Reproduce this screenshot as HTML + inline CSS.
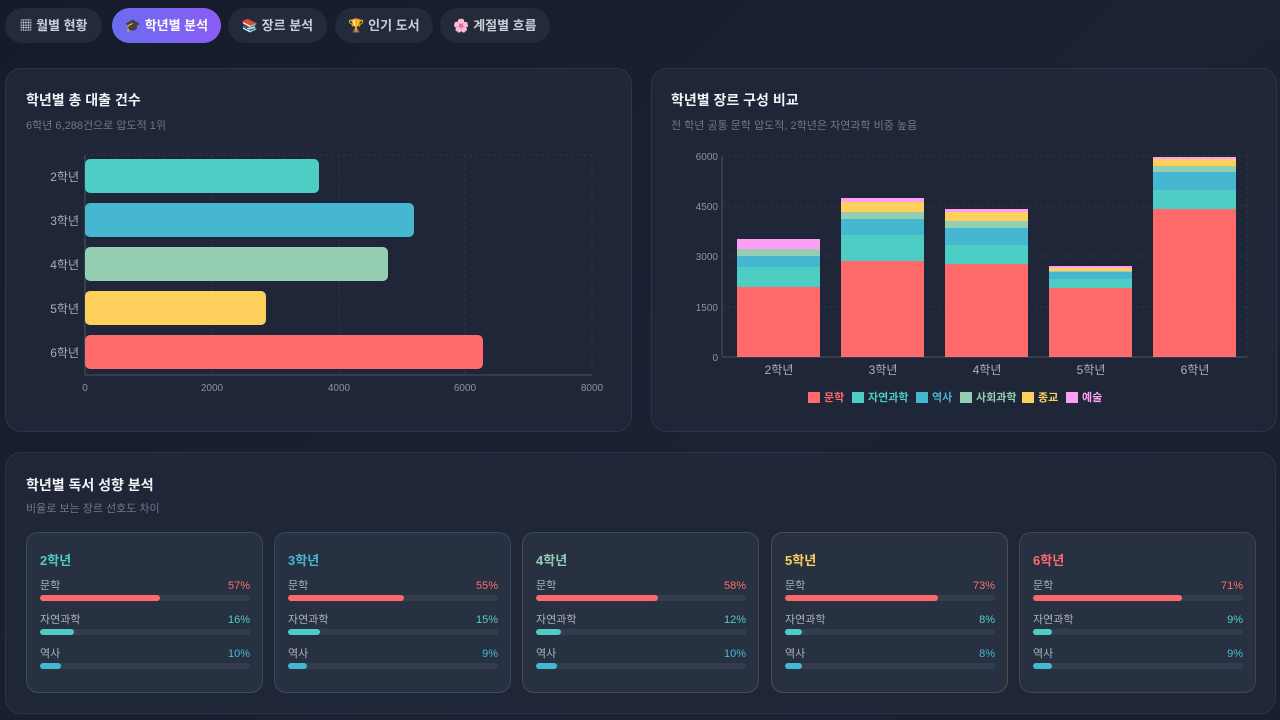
<!DOCTYPE html>
<html><head><meta charset="utf-8"><style>
*{margin:0;padding:0;box-sizing:border-box}
body{width:1280px;height:720px;overflow:hidden;background:linear-gradient(135deg,#151b29,#1b2233 60%,#182030);font-family:"Liberation Sans","Noto Sans CJK KR",sans-serif;color:#e6e9ef;position:relative}
.tab{position:absolute;top:8px;height:35px;border-radius:18px;background:#232b3a;color:#c9ced8;font-size:13px;font-weight:bold;line-height:35px;text-align:center}
.tab.on{background:linear-gradient(90deg,#6a6cf0,#8b5cf6);color:#fff}
.card{position:absolute;background:#1e2637;border:1px solid #2c3548;border-radius:16px}
.h{position:absolute;font-size:14px;font-weight:bold;color:#f1f3f7}
.s{position:absolute;font-size:11px;color:#6f7889}
.g{position:absolute;top:532px;width:237px;height:161px;border-radius:12px;background:#283142;border:1px solid #3a4a5a}
.g .t{position:absolute;left:13px;top:17px;font-size:13px;font-weight:bold}
.row{position:absolute;left:13px;width:210px;height:14px;font-size:11px;line-height:14px;color:#a9b0bd}
.row .v{position:absolute;right:0;top:0;line-height:14px}
.row .tr{position:absolute;left:0;top:16px;width:210px;height:6px;border-radius:3px;background:#343d4d}
.row .f{position:absolute;left:0;top:0;height:6px;border-radius:3px}
</style></head><body>
<div class="tab" style="left:5px;width:97px">▦ 월별 현황</div>
<div class="tab on" style="left:112px;width:109px">🎓 학년별 분석</div>
<div class="tab" style="left:228px;width:99px">📚 장르 분석</div>
<div class="tab" style="left:335px;width:98px">🏆 인기 도서</div>
<div class="tab" style="left:440px;width:110px">🌸 계절별 흐름</div>

<div class="card" style="left:5px;top:68px;width:627px;height:364px"></div>
<div class="card" style="left:651px;top:68px;width:626px;height:364px"></div>
<div class="card" style="left:5px;top:452px;width:1271px;height:262px"></div>

<div class="h" style="left:26px;top:90px">학년별 총 대출 건수</div>
<div class="s" style="left:26px;top:117px">6학년 6,288건으로 압도적 1위</div>
<div class="h" style="left:671px;top:90px">학년별 장르 구성 비교</div>
<div class="s" style="left:671px;top:117px">전 학년 공통 문학 압도적, 2학년은 자연과학 비중 높음</div>
<div class="h" style="left:26px;top:475px">학년별 독서 성향 분석</div>
<div class="s" style="left:26px;top:500px">비율로 보는 장르 선호도 차이</div>

<svg width="1280" height="720" style="position:absolute;left:0;top:0" font-family="Liberation Sans, Noto Sans CJK KR, sans-serif">
<g stroke="#2c3547" stroke-dasharray="3,3">
<line x1="212" y1="155" x2="212" y2="375"/><line x1="339" y1="155" x2="339" y2="375"/><line x1="465" y1="155" x2="465" y2="375"/><line x1="592" y1="155" x2="592" y2="375"/>
<line x1="85" y1="155" x2="592" y2="155"/>
<line x1="722" y1="156" x2="1247" y2="156"/><line x1="722" y1="206" x2="1247" y2="206"/><line x1="722" y1="256" x2="1247" y2="256"/><line x1="722" y1="307" x2="1247" y2="307"/>
<line x1="1247" y1="156" x2="1247" y2="357"/>
</g>
<g stroke="#4a5364"><line x1="85" y1="155" x2="85" y2="375"/><line x1="85" y1="375" x2="592" y2="375"/>
<line x1="722" y1="156" x2="722" y2="357"/><line x1="722" y1="357" x2="1247" y2="357"/></g>
<rect x="85" y="159" width="234" height="34" rx="5" fill="#4ecdc4"/>
<rect x="85" y="203" width="329" height="34" rx="5" fill="#45b7d1"/>
<rect x="85" y="247" width="303" height="34" rx="5" fill="#96ceb4"/>
<rect x="85" y="291" width="181" height="34" rx="5" fill="#ffd15c"/>
<rect x="85" y="335" width="398" height="34" rx="5" fill="#ff6b6b"/>
<g font-size="12" fill="#a9b0bd" text-anchor="end">
<text x="79" y="181">2학년</text><text x="79" y="225">3학년</text><text x="79" y="269">4학년</text><text x="79" y="313">5학년</text><text x="79" y="357">6학년</text></g>
<g font-size="10" fill="#8d95a3" text-anchor="middle">
<text x="85" y="391">0</text><text x="212" y="391">2000</text><text x="339" y="391">4000</text><text x="465" y="391">6000</text><text x="592" y="391">8000</text></g>
<g font-size="10" fill="#8d95a3" text-anchor="end">
<text x="718" y="160">6000</text><text x="718" y="210">4500</text><text x="718" y="260">3000</text><text x="718" y="311">1500</text><text x="718" y="361">0</text></g>
<g font-size="12" fill="#a9b0bd" text-anchor="middle">
<text x="779" y="374">2학년</text><text x="883" y="374">3학년</text><text x="987" y="374">4학년</text><text x="1091" y="374">5학년</text><text x="1195" y="374">6학년</text></g>
<g>
<rect x="737" y="287" width="83" height="70" fill="#ff6b6b"/><rect x="737" y="267" width="83" height="20" fill="#4ecdc4"/><rect x="737" y="256" width="83" height="11" fill="#45b7d1"/><rect x="737" y="249" width="83" height="7" fill="#96ceb4"/><rect x="737" y="239" width="83" height="10" fill="#ff9ff3"/>
<rect x="841" y="261" width="83" height="96" fill="#ff6b6b"/><rect x="841" y="235" width="83" height="26" fill="#4ecdc4"/><rect x="841" y="219" width="83" height="16" fill="#45b7d1"/><rect x="841" y="212" width="83" height="7" fill="#96ceb4"/><rect x="841" y="202" width="83" height="10" fill="#ffd15c"/><rect x="841" y="198" width="83" height="4" fill="#ff9ff3"/>
<rect x="945" y="264" width="83" height="93" fill="#ff6b6b"/><rect x="945" y="245" width="83" height="19" fill="#4ecdc4"/><rect x="945" y="228" width="83" height="17" fill="#45b7d1"/><rect x="945" y="221" width="83" height="7" fill="#96ceb4"/><rect x="945" y="212" width="83" height="9" fill="#ffd15c"/><rect x="945" y="209" width="83" height="3" fill="#ff9ff3"/>
<rect x="1049" y="288" width="83" height="69" fill="#ff6b6b"/><rect x="1049" y="279" width="83" height="9" fill="#4ecdc4"/><rect x="1049" y="272" width="83" height="7" fill="#45b7d1"/><rect x="1049" y="270" width="83" height="2" fill="#96ceb4"/><rect x="1049" y="268" width="83" height="3" fill="#ffd15c"/><rect x="1049" y="266" width="83" height="2" fill="#ff9ff3"/>
<rect x="1153" y="209" width="83" height="148" fill="#ff6b6b"/><rect x="1153" y="190" width="83" height="19" fill="#4ecdc4"/><rect x="1153" y="172" width="83" height="18" fill="#45b7d1"/><rect x="1153" y="166" width="83" height="6" fill="#96ceb4"/><rect x="1153" y="159" width="83" height="7" fill="#ffd15c"/><rect x="1153" y="157" width="83" height="2" fill="#ff9ff3"/>
</g>
<g font-size="11" font-weight="bold">
<rect x="808" y="392" width="12" height="11" fill="#ff6b6b"/><text x="824" y="401" fill="#ff6b6b">문학</text>
<rect x="852" y="392" width="12" height="11" fill="#4ecdc4"/><text x="868" y="401" fill="#4ecdc4">자연과학</text>
<rect x="916" y="392" width="12" height="11" fill="#45b7d1"/><text x="932" y="401" fill="#45b7d1">역사</text>
<rect x="960" y="392" width="12" height="11" fill="#96ceb4"/><text x="976" y="401" fill="#96ceb4">사회과학</text>
<rect x="1022" y="392" width="12" height="11" fill="#ffd15c"/><text x="1038" y="401" fill="#ffd15c">종교</text>
<rect x="1066" y="392" width="12" height="11" fill="#ff9ff3"/><text x="1082" y="401" fill="#ff9ff3">예술</text>
</g>
</svg>

<div class="g" style="left:26px;border-color:#35505a"><div class="t" style="color:#4ecdc4">2학년</div>
<div class="row" style="top:46px">문학<span class="v" style="color:#ff6b6b">57%</span><div class="tr"><div class="f" style="width:57%;background:#ff6b6b"></div></div></div>
<div class="row" style="top:80px">자연과학<span class="v" style="color:#4ecdc4">16%</span><div class="tr"><div class="f" style="width:16%;background:#4ecdc4"></div></div></div>
<div class="row" style="top:114px">역사<span class="v" style="color:#45b7d1">10%</span><div class="tr"><div class="f" style="width:10%;background:#45b7d1"></div></div></div></div>
<div class="g" style="left:274px;border-color:#344d5c"><div class="t" style="color:#45b7d1">3학년</div>
<div class="row" style="top:46px">문학<span class="v" style="color:#ff6b6b">55%</span><div class="tr"><div class="f" style="width:55%;background:#ff6b6b"></div></div></div>
<div class="row" style="top:80px">자연과학<span class="v" style="color:#4ecdc4">15%</span><div class="tr"><div class="f" style="width:15%;background:#4ecdc4"></div></div></div>
<div class="row" style="top:114px">역사<span class="v" style="color:#45b7d1">9%</span><div class="tr"><div class="f" style="width:9%;background:#45b7d1"></div></div></div></div>
<div class="g" style="left:522px;border-color:#3d4f52"><div class="t" style="color:#96ceb4">4학년</div>
<div class="row" style="top:46px">문학<span class="v" style="color:#ff6b6b">58%</span><div class="tr"><div class="f" style="width:58%;background:#ff6b6b"></div></div></div>
<div class="row" style="top:80px">자연과학<span class="v" style="color:#4ecdc4">12%</span><div class="tr"><div class="f" style="width:12%;background:#4ecdc4"></div></div></div>
<div class="row" style="top:114px">역사<span class="v" style="color:#45b7d1">10%</span><div class="tr"><div class="f" style="width:10%;background:#45b7d1"></div></div></div></div>
<div class="g" style="left:771px;border-color:#4f4c44"><div class="t" style="color:#ffd15c">5학년</div>
<div class="row" style="top:46px">문학<span class="v" style="color:#ff6b6b">73%</span><div class="tr"><div class="f" style="width:73%;background:#ff6b6b"></div></div></div>
<div class="row" style="top:80px">자연과학<span class="v" style="color:#4ecdc4">8%</span><div class="tr"><div class="f" style="width:8%;background:#4ecdc4"></div></div></div>
<div class="row" style="top:114px">역사<span class="v" style="color:#45b7d1">8%</span><div class="tr"><div class="f" style="width:8%;background:#45b7d1"></div></div></div></div>
<div class="g" style="left:1019px;border-color:#4d4047"><div class="t" style="color:#ff6b6b">6학년</div>
<div class="row" style="top:46px">문학<span class="v" style="color:#ff6b6b">71%</span><div class="tr"><div class="f" style="width:71%;background:#ff6b6b"></div></div></div>
<div class="row" style="top:80px">자연과학<span class="v" style="color:#4ecdc4">9%</span><div class="tr"><div class="f" style="width:9%;background:#4ecdc4"></div></div></div>
<div class="row" style="top:114px">역사<span class="v" style="color:#45b7d1">9%</span><div class="tr"><div class="f" style="width:9%;background:#45b7d1"></div></div></div></div>
</body></html>
